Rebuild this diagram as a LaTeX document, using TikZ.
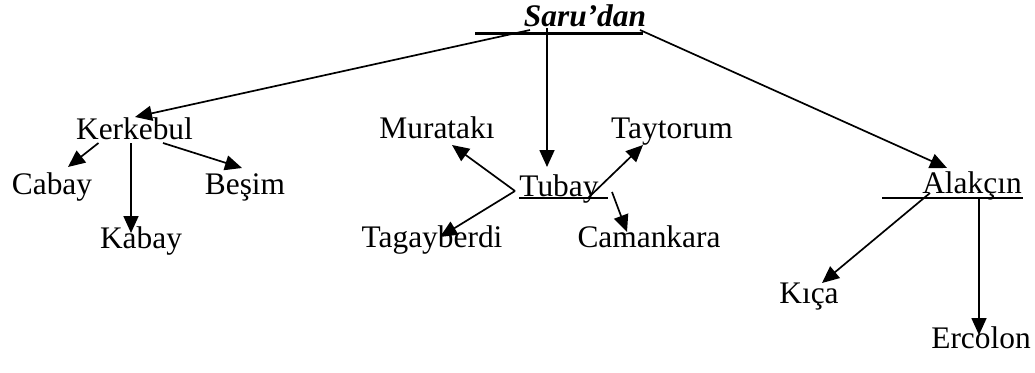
\documentclass[tikz,border=0pt]{standalone}
\usepackage{fontspec}
\setmainfont{Liberation Serif}
\usetikzlibrary{arrows.meta, positioning}

\tikzset{
  kin/.style={inner sep=0pt, anchor=base, font=\fontsize{31.4}{36}\selectfont},
  arr/.style={-{Triangle[length=17pt, width=15pt]}, line width=1.7pt},
  bar/.style={line width=1.9pt}
}

\begin{document}
\begin{tikzpicture}[x=1pt, y=-1pt]
  \useasboundingbox (0,0) rectangle (1035,372);
  \node [kin] (Saru) at (585,27) {\textbf{\textit{Saru’dan}}};
  \node [kin] (Kerkebul) at (134.5,139) {Kerkebul};
  \node [kin] (Cabay) at (52,194) {Cabay};
  \node [kin] (Besim) at (245,194) {Beşim};
  \node [kin] (Kabay) at (141,248) {Kabay};
  \node [kin] (Murataki) at (437,138) {Muratakı};
  \node [kin] (Taytorum) at (672,138) {Taytorum};
  \node [kin] (Tubay) at (559,196) {Tubay};
  \node [kin] (Tagayberdi) at (432,247) {Tagayberdi};
  \node [kin] (Camankara) at (649,247) {Camankara};
  \node [kin] (Alakcin) at (972,193) {Alakçın};
  \node [kin] (Kica) at (809,303) {Kıça};
  \node [kin] (Ercolon) at (981,348) {Ercolon};

  \draw [bar, line width=3pt] ([shift={(-110,6)}]Saru.base) -- ([shift={(58,6)}]Saru.base);
  \draw [arr] ([shift={(-55,3)}]Saru.base) -- ([shift={(0.5,-22)}]Kerkebul.base);
  \draw [arr] ([shift={(-38,1)}]Saru.base) -- ([shift={(-12,-29)}]Tubay.base);
  \draw [arr] ([shift={(55,3)}]Saru.base) -- ([shift={(-25,-25)}]Alakcin.base);

  \draw [arr] ([shift={(-36,4)}]Kerkebul.base) -- ([shift={(16,-27)}]Cabay.base);
  \draw [arr] ([shift={(-3.5,4)}]Kerkebul.base) -- ([shift={(-10,-15)}]Kabay.base);
  \draw [arr] ([shift={(28.5,4)}]Kerkebul.base) -- ([shift={(-3,-26)}]Besim.base);

  \draw [bar] ([shift={(-40,2)}]Tubay.base) -- ([shift={(49,2)}]Tubay.base);
  \draw [arr] ([shift={(-44,-5)}]Tubay.base) -- ([shift={(15,7)}]Murataki.base);
  \draw [arr] ([shift={(-44,-5)}]Tubay.base) -- ([shift={(8,-10)}]Tagayberdi.base);
  \draw [arr] ([shift={(29,2)}]Tubay.base) -- ([shift={(-29,7)}]Taytorum.base);
  \draw [arr] ([shift={(53,-4)}]Tubay.base) -- ([shift={(-22,-15)}]Camankara.base);

  \draw [bar] ([shift={(-90,5)}]Alakcin.base) -- ([shift={(51,5)}]Alakcin.base);
  \draw [arr] ([shift={(-42,0)}]Alakcin.base) -- ([shift={(13,-20)}]Kica.base);
  \draw [arr] ([shift={(7,4)}]Alakcin.base) -- ([shift={(-2,-13)}]Ercolon.base);
\end{tikzpicture}
\end{document}
